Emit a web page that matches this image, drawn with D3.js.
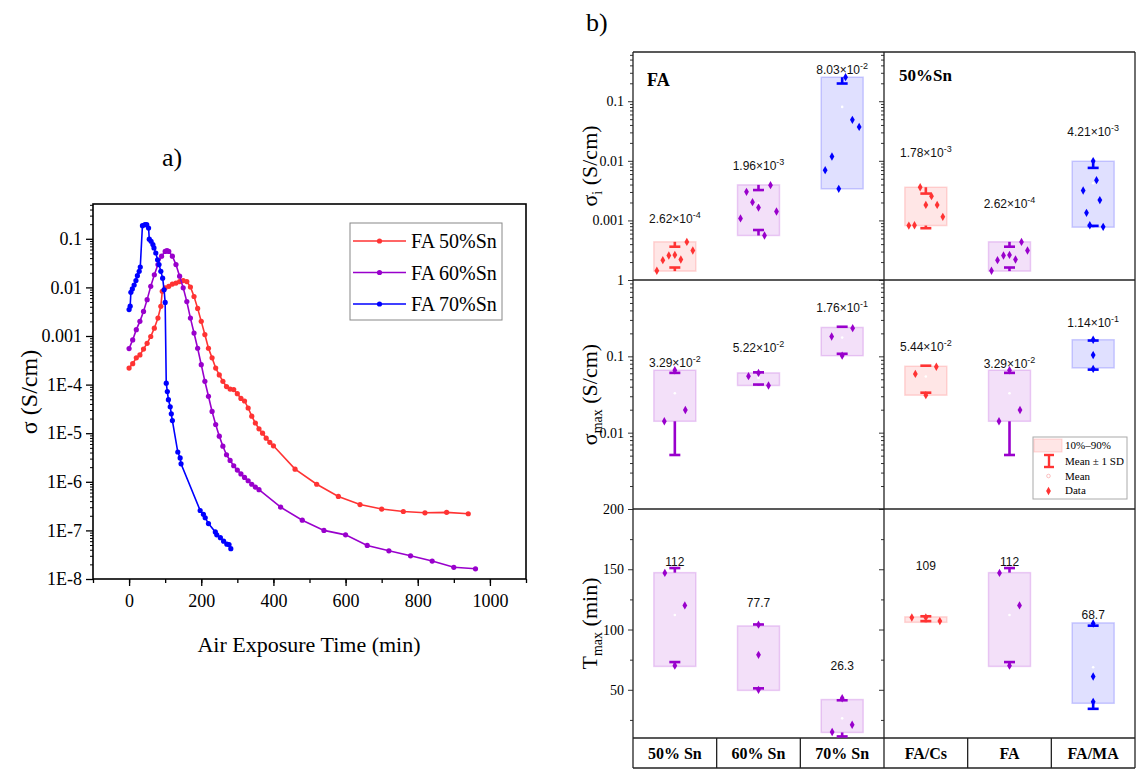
<!DOCTYPE html>
<html>
<head>
<meta charset="utf-8">
<script src="https://cdn.jsdelivr.net/npm/d3@7"></script>
<style>
  body { margin: 0; background: #fff; }
  svg { display: block; }
</style>
</head>
<body>
<svg id="fig" width="1136" height="769"></svg>
<script>
// ---------- panel a data: [air exposure time (min), sigma (S/cm)] ----------
const FA50_SN = [
  [0,2.19e-4],[10,2.69e-4],[20,3.55e-4],[30,4.07e-4],[40,5.37e-4],[50,7.08e-4],[60,9.77e-4],
  [70,1.45e-3],[80,2.34e-3],[88,4.07e-3],[92,8.3e-3],[100,9.8e-3],[110,1.05e-2],[120,1.17e-2],
  [130,1.23e-2],[140,1.32e-2],[150,1.38e-2],[160,1.32e-2],[170,1.02e-2],[180,6.5e-3],[190,3.7e-3],
  [200,2.0e-3],[210,1.07e-3],[220,5.6e-4],[230,3.55e-4],[240,2.19e-4],[250,1.58e-4],[260,1.17e-4],
  [270,9.1e-5],[280,8.1e-5],[290,7.9e-5],[300,6.5e-5],[310,5.2e-5],[320,4.6e-5],[330,3.3e-5],
  [340,2.24e-5],[350,1.62e-5],[360,1.23e-5],[370,1.0e-5],[380,7.9e-6],[390,6.5e-6],[400,5.5e-6],
  [460,1.82e-6],[520,8.9e-7],[580,5.0e-7],[640,3.4e-7],[700,2.75e-7],[760,2.45e-7],[820,2.3e-7],
  [880,2.35e-7],[940,2.2e-7]
];
const FA60_SN = [
  [0,5.5e-4],[10,8.3e-4],[20,1.35e-3],[30,2.0e-3],[40,3.2e-3],[50,5.6e-3],[60,1.05e-2],[70,1.82e-2],
  [80,2.95e-2],[90,4.4e-2],[100,5.5e-2],[105,5.75e-2],[110,5.5e-2],[120,4.4e-2],[130,2.95e-2],
  [140,1.7e-2],[150,9.8e-3],[160,5.1e-3],[170,2.34e-3],[180,1.15e-3],[190,5.6e-4],[200,2.57e-4],
  [210,1.17e-4],[220,5.75e-5],[230,2.8e-5],[240,1.51e-5],[250,8.7e-6],[260,5.4e-6],[270,3.6e-6],
  [280,2.75e-6],[290,2.14e-6],[300,1.74e-6],[310,1.45e-6],[320,1.23e-6],[330,1.05e-6],[340,8.9e-7],
  [350,7.8e-7],[360,6.9e-7],[420,3.0e-7],[480,1.62e-7],[540,1.0e-7],[600,8.1e-8],[660,4.9e-8],
  [720,3.8e-8],[780,3.0e-8],[840,2.34e-8],[900,1.74e-8],[960,1.62e-8]
];
const FA70_SN = [
  [0,3.5e-3],[3,4.1e-3],[5,7.9e-3],[9,9.3e-3],[14,1.12e-2],[19,1.38e-2],[23,1.74e-2],[28,2.14e-2],
  [31,2.63e-2],[37,0.186],[44,0.195],[49,0.195],[54,0.166],[56,9.8e-2],[61,8.9e-2],[66,7.6e-2],
  [69,6.5e-2],[74,5.1e-2],[79,3.7e-2],[83,2.95e-2],[88,2.14e-2],[93,1.55e-2],[97,8.9e-3],[100,4.9e-3],
  [103,1.07e-4],[106,7.2e-5],[109,4.9e-5],[114,3.5e-5],[117,2.5e-5],[120,1.82e-5],[135,4.1e-6],
  [141.5,3.1e-6],[144,2.34e-6],[197,2.57e-7],[206,2.14e-7],[211,1.82e-7],[220,1.38e-7],[239,9.3e-8],
  [243,8.1e-8],[253,7.1e-8],[262,6.0e-8],[271,5.2e-8],[277,5.1e-8],[282,4.2e-8]
];
const SERIES_NAMES = ["FA 50%Sn", "FA 60%Sn", "FA 70%Sn"];
const X_TICKS_A = [0, 200, 400, 600, 800, 1000];

// ---------- panel b data ----------
const GROUP_FA = ["50% Sn", "60% Sn", "70% Sn"];
const GROUP_SN = ["FA/Cs", "FA", "FA/MA"];

// sigma_i (S/cm)
const SIGI_FA_DATA = [
  [1.43e-4, 2.15e-4, 2.58e-4, 2.64e-4, 2.21e-4, 4.36e-4, 3.13e-4],
  [1.08e-3, 3.02e-3, 2.02e-3, 1.64e-3, 5.58e-4, 3.9e-3, 1.41e-3],
  [6.97e-3, 1.18e-2, 3.39e-3, 0.253, 4.87e-2, 3.71e-2]
];
const SIGI_FA_BOX  = [[1.41e-4, 4.37e-4], [5.58e-4, 3.95e-3], [3.39e-3, 0.253]];
const SIGI_FA_MEAN = [2.62e-4, 1.96e-3, 8.03e-2];
const SIGI_FA_SD   = [1.0e-4, 1.27e-3, 0.118];

const SIGI_SN_DATA = [
  [8.2e-4, 8.3e-4, 3.6e-3, 1.82e-3, 2.55e-3, 1.82e-3, 1.15e-3],
  [1.43e-4, 2.15e-4, 2.58e-4, 2.64e-4, 2.21e-4, 4.36e-4, 3.13e-4],
  [3.18e-3, 1.34e-3, 8.3e-4, 9.9e-3, 4.73e-3, 2.19e-3, 7.8e-4]
];
const SIGI_SN_BOX  = [[8.2e-4, 3.6e-3], [1.41e-4, 4.37e-4], [7.7e-4, 9.84e-3]];
const SIGI_SN_MEAN = [1.78e-3, 2.62e-4, 4.21e-3];
const SIGI_SN_SD   = [1.04e-3, 1.0e-4, 3.4e-3];

// sigma_max (S/cm)
const SIGMAX_FA_DATA = [[0.0141, 0.0657, 0.0198], [0.055, 0.0607, 0.0415], [0.182, 0.102, 0.234]];
const SIGMAX_FA_BOX  = [[0.0141, 0.0657], [0.0415, 0.0607], [0.102, 0.239]];
const SIGMAX_FA_MEAN = [3.29e-2, 5.22e-2, 1.76e-1];
const SIGMAX_FA_SD   = [0.0278, 0.0095, 0.068];

const SIGMAX_SN_DATA = [[0.0589, 0.031, 0.073], [0.0141, 0.0657, 0.0198], [0.165, 0.104, 0.0685]];
const SIGMAX_SN_BOX  = [[0.031, 0.0741], [0.0141, 0.0657], [0.0705, 0.165]];
const SIGMAX_SN_MEAN = [5.44e-2, 3.29e-2, 1.14e-1];
const SIGMAX_SN_SD   = [0.021, 0.0278, 0.047];

// T_max (min)
const TMAX_FA_DATA = [[147, 70, 120], [104, 79, 50], [15, 43, 21]];
const TMAX_FA_BOX  = [[69.4, 147.2], [49.5, 103], [14.6, 41.9]];
const TMAX_FA_MEAN = [112, 77.7, 26.3];
const TMAX_FA_SD   = [39, 26.5, 15];

const TMAX_SN_DATA = [[110, 110, 107], [147, 70, 120], [105, 61, 40]];
const TMAX_SN_BOX  = [[106, 110.5], [69.4, 147.2], [38.8, 105.5]];
const TMAX_SN_MEAN = [109, 112, 68.7];
const TMAX_SN_SD   = [2, 39, 34.5];

// ---------- styling ----------
const SERIF = "'Liberation Serif','Times New Roman',serif";
const SANS  = "'Liberation Sans',Arial,sans-serif";
const COL = { red: "#ff3333", purple: "#9900cc", blue: "#0000ff" };
const LINE_COLORS = [COL.red, COL.purple, COL.blue];

const svg = d3.select("#fig").attr("font-family", SERIF);

function noDomain(g) { g.select(".domain").remove(); }
function styleTicks(g, size) {
  g.selectAll("text").attr("font-family", SERIF).attr("font-size", size).attr("fill", "#000");
  g.selectAll("line").attr("stroke", "#000");
}

// =================== panel a ===================
const A = { left: 93, right: 526, top: 204, bottom: 579 };
const xA = d3.scaleLinear().domain([-100, 1100]).range([A.left, A.right]);
const yA = d3.scaleLog().domain([1e-8, 0.52]).range([A.bottom, A.top]);
const gA = svg.append("g");

const decA = d3.range(-8, 0).map(e => 10 ** e);
const minorA = [];
d3.range(-8, 0).forEach(e => d3.range(2, 10).forEach(m => { const v = m * 10 ** e; if (v <= 0.52) minorA.push(v); }));

gA.append("g").attr("transform", `translate(0,${A.bottom})`)
  .call(d3.axisBottom(xA).tickValues(d3.range(-100, 1101, 100)).tickSize(4).tickFormat(""))
  .call(noDomain).call(g => g.selectAll("line").attr("stroke", "#000").attr("stroke-width", 1.3));
gA.append("g").attr("transform", `translate(0,${A.bottom})`)
  .call(d3.axisBottom(xA).tickValues(X_TICKS_A).tickSize(7).tickPadding(8).tickFormat(d3.format("d")))
  .call(noDomain).call(g => styleTicks(g, 18)).call(g => g.selectAll("line").attr("stroke-width", 1.3));

gA.append("g").attr("transform", `translate(${A.left},0)`)
  .call(d3.axisLeft(yA).tickValues(minorA).tickSize(3).tickFormat(""))
  .call(noDomain).call(g => g.selectAll("line").attr("stroke", "#000"));
gA.append("g").attr("transform", `translate(${A.left},0)`)
  .call(d3.axisLeft(yA).tickValues(decA).tickSize(7).tickPadding(4)
    .tickFormat(d => d >= 1e-3 ? String(+d.toPrecision(1)) : "1E" + Math.round(Math.log10(d))))
  .call(noDomain).call(g => styleTicks(g, 18)).call(g => g.selectAll("line").attr("stroke-width", 1.3));

gA.append("rect").attr("x", A.left).attr("y", A.top)
  .attr("width", A.right - A.left).attr("height", A.bottom - A.top)
  .attr("fill", "none").attr("stroke", "#000").attr("stroke-width", 1.6);

const lineA = d3.line().x(d => xA(d[0])).y(d => yA(d[1]));
[FA50_SN, FA60_SN, FA70_SN].forEach((s, i) => {
  gA.append("path").datum(s).attr("fill", "none").attr("stroke", LINE_COLORS[i])
    .attr("stroke-width", 1.6).attr("d", lineA);
  gA.append("g").selectAll("circle").data(s).join("circle")
    .attr("cx", d => xA(d[0])).attr("cy", d => yA(d[1])).attr("r", 2.6)
    .attr("fill", LINE_COLORS[i]);
});

// legend a
const legA = gA.append("g");
legA.append("rect").attr("x", 350).attr("y", 223).attr("width", 152).attr("height", 97)
  .attr("fill", "#fff").attr("stroke", "#888").attr("stroke-width", 1);
SERIES_NAMES.forEach((n, i) => {
  const ly = 241 + i * 31.5;
  legA.append("line").attr("x1", 353).attr("x2", 406).attr("y1", ly).attr("y2", ly)
    .attr("stroke", LINE_COLORS[i]).attr("stroke-width", 1.6);
  legA.append("circle").attr("cx", 379.5).attr("cy", ly).attr("r", 2.6).attr("fill", LINE_COLORS[i]);
  legA.append("text").attr("x", 411).attr("y", ly + 7).attr("font-size", 20).text(n);
});

gA.append("text").attr("x", 309).attr("y", 652).attr("text-anchor", "middle")
  .attr("font-size", 22).text("Air Exposure Time (min)");
gA.append("text").attr("transform", "translate(37,392) rotate(-90)").attr("text-anchor", "middle")
  .attr("font-size", 24).text("σ (S/cm)");
svg.append("text").attr("x", 162).attr("y", 166).attr("font-size", 26).text("a)");
svg.append("text").attr("x", 586).attr("y", 31).attr("font-size", 26).text("b)");

// =================== panel b ===================
const B = { left: 633, mid: 884, right: 1135, top: 52, r1: 280, r2: 509, r3: 738, bottom: 768 };
const xFA = d3.scaleBand().domain(GROUP_FA).range([B.left, B.mid]);
const xSN = d3.scaleBand().domain(GROUP_SN).range([B.mid, B.right]);
const ySigI   = d3.scaleLog().domain([1e-4, 0.67]).range([B.r1, B.top]);
const ySigMax = d3.scaleLog().domain([1e-3, 1]).range([B.r2, B.r1]);
const yTmax   = d3.scaleLinear().domain([10, 200]).range([B.r3, B.r2]);

const gB = svg.append("g");

function logMinor(lo, hi) {
  const out = [];
  for (let e = Math.floor(Math.log10(lo)); e < Math.ceil(Math.log10(hi)); e++)
    for (let m = 2; m < 10; m++) { const v = m * 10 ** e; if (v > lo && v < hi) out.push(v); }
  return out;
}
const ROW_AXES = [
  { y: ySigI,   major: [0.1, 0.01, 0.001],   minor: logMinor(1e-4, 0.67), all: [1e-3, 1e-2, 1e-1] },
  { y: ySigMax, major: [1, 0.1, 0.01],       minor: logMinor(1e-3, 1),    all: [1e-2, 1e-1, 1] },
  { y: yTmax,   major: [200, 150, 100, 50],  minor: [25, 75, 125, 175],   all: [50, 100, 150, 200] }
];
ROW_AXES.forEach(r => {
  [B.left, B.mid].forEach((xp, k) => {
    gB.append("g").attr("transform", `translate(${xp},0)`)
      .call(d3.axisLeft(r.y).tickValues(r.minor).tickSize(3).tickFormat(""))
      .call(noDomain).call(g => g.selectAll("line").attr("stroke", "#333"));
    gB.append("g").attr("transform", `translate(${xp},0)`)
      .call(d3.axisLeft(r.y).tickValues(k === 0 ? r.major : r.all).tickSize(5).tickPadding(4)
        .tickFormat(k === 0 ? (d => String(d)) : ""))
      .call(noDomain).call(g => styleTicks(g, 14)).call(g => g.selectAll("line").attr("stroke", "#333"));
  });
});

// frame lines
const frame = gB.append("g").attr("stroke", "#222").attr("stroke-width", 1.3);
[B.left, B.mid, B.right].forEach(x => frame.append("line").attr("x1", x).attr("x2", x).attr("y1", B.top).attr("y2", B.bottom));
[B.top, B.r1, B.r2, B.r3, B.bottom].forEach(y => frame.append("line").attr("x1", B.left).attr("x2", B.right).attr("y1", y).attr("y2", y));
[xFA, xSN].forEach(sc => sc.domain().slice(1).forEach(c =>
  frame.append("line").attr("x1", sc(c)).attr("x2", sc(c)).attr("y1", B.r3).attr("y2", B.bottom)));

// category labels
[xFA, xSN].forEach(sc => sc.domain().forEach(c =>
  gB.append("text").attr("x", sc(c) + sc.bandwidth() / 2).attr("y", 759)
    .attr("text-anchor", "middle").attr("font-size", 16).attr("font-weight", "bold").text(c)));

gB.append("text").attr("x", 647).attr("y", 86).attr("font-size", 18).attr("font-weight", "bold").text("FA");
gB.append("text").attr("x", 899).attr("y", 81).attr("font-size", 17).attr("font-weight", "bold").text("50%Sn");

// row titles
function rowTitle(cy, main, sub, rest) {
  const t = gB.append("text").attr("transform", `translate(597,${cy}) rotate(-90)`)
    .attr("text-anchor", "middle").attr("font-size", 22);
  t.append("tspan").text(main);
  t.append("tspan").attr("font-size", 14).attr("dy", 5).text(sub);
  t.append("tspan").attr("dy", -5).text(rest);
}
rowTitle((B.top + B.r1) / 2, "σ", "i", " (S/cm)");
rowTitle((B.r1 + B.r2) / 2, "σ", "max", " (S/cm)");
rowTitle((B.r2 + B.r3) / 2, "T", "max", " (min)");

// cells
const CELLS = [
  { x: xFA, y: ySigI, log: true, data: SIGI_FA_DATA, box: SIGI_FA_BOX, mean: SIGI_FA_MEAN, sd: SIGI_FA_SD,
    col: ["red", "purple", "blue"], gap: [19, 15, 3], jit: [18, 18, 17] },
  { x: xSN, y: ySigI, log: true, data: SIGI_SN_DATA, box: SIGI_SN_BOX, mean: SIGI_SN_MEAN, sd: SIGI_SN_SD,
    col: ["red", "purple", "blue"], gap: [30, 34, 25], jit: [17, 18, 10] },
  { x: xFA, y: ySigMax, log: true, data: SIGMAX_FA_DATA, box: SIGMAX_FA_BOX, mean: SIGMAX_FA_MEAN, sd: SIGMAX_FA_SD,
    col: ["purple", "purple", "purple"], gap: [3, 21, 15], jit: [10.5, 10, 10.5] },
  { x: xSN, y: ySigMax, log: true, data: SIGMAX_SN_DATA, box: SIGMAX_SN_BOX, mean: SIGMAX_SN_MEAN, sd: SIGMAX_SN_SD,
    col: ["red", "purple", "blue"], gap: [15, 2, 13], jit: [10.5, 10.5, 0] },
  { x: xFA, y: yTmax, log: false, data: TMAX_FA_DATA, box: TMAX_FA_BOX, mean: TMAX_FA_MEAN, sd: TMAX_FA_SD,
    col: ["purple", "purple", "purple"], gap: [7, 19, 30], jit: [10, 0, 10] },
  { x: xSN, y: yTmax, log: false, data: TMAX_SN_DATA, box: TMAX_SN_BOX, mean: TMAX_SN_MEAN, sd: TMAX_SN_SD,
    col: ["red", "purple", "blue"], gap: [47, 7, 4], jit: [14, 10, 0] }
];
const BOX_W = 42, CAP_W = 11;
const diamond = d3.symbol().type(d3.symbolDiamond).size(20);

CELLS.forEach(cell => {
  const lo = cell.y.domain()[0];
  cell.x.domain().forEach((cat, i) => {
    const c = COL[cell.col[i]];
    const cx = cell.x(cat) + cell.x.bandwidth() / 2;
    const [bLo, bHi] = cell.box[i];
    const g = gB.append("g");
    g.append("rect").attr("x", cx - BOX_W / 2).attr("width", BOX_W)
      .attr("y", cell.y(bHi)).attr("height", cell.y(bLo) - cell.y(bHi))
      .attr("fill", c).attr("fill-opacity", 0.12)
      .attr("stroke", c).attr("stroke-opacity", 0.18).attr("stroke-width", 1.5);

    const m = cell.mean[i], s = cell.sd[i];
    const up = m + s, dn = m - s;
    const whisk = (from, to) => {
      g.append("line").attr("x1", cx).attr("x2", cx).attr("y1", cell.y(from)).attr("y2", cell.y(to))
        .attr("stroke", c).attr("stroke-width", 2.6);
      g.append("line").attr("x1", cx - CAP_W / 2).attr("x2", cx + CAP_W / 2)
        .attr("y1", cell.y(to)).attr("y2", cell.y(to)).attr("stroke", c).attr("stroke-width", 2.6);
    };
    whisk(bHi, up);
    if (dn > lo) whisk(bLo, dn);

    g.append("circle").attr("cx", cx).attr("cy", cell.y(m)).attr("r", 1.3).attr("fill", "#fff");

    const pts = cell.data[i], n = pts.length;
    g.selectAll("path.pt").data(pts).join("path").attr("class", "pt")
      .attr("transform", (d, k) => {
        const off = n > 1 ? (-1 + 2 * k / (n - 1)) * cell.jit[i] : 0;
        return `translate(${cx + off},${cell.y(d)})`;
      })
      .attr("d", diamond).attr("fill", c);

    const t = g.append("text").attr("x", cx).attr("y", cell.y(bHi) - cell.gap[i])
      .attr("text-anchor", "middle").attr("font-family", SANS).attr("font-size", 12).attr("fill", "#111");
    if (cell.log) {
      const e = Math.floor(Math.log10(m) + 1e-9);
      t.append("tspan").text((m / 10 ** e).toFixed(2) + "×10");
      t.append("tspan").attr("dy", -5).attr("font-size", 9).text(String(e));
    } else {
      t.text(d3.format(".3r")(m));
    }
  });
});

// legend b
const legB = gB.append("g");
legB.append("rect").attr("x", 1033).attr("y", 437).attr("width", 94).attr("height", 62)
  .attr("fill", "#fff").attr("stroke", "#aaa").attr("stroke-width", 1);
legB.append("rect").attr("x", 1034).attr("y", 439).attr("width", 28).attr("height", 13)
  .attr("fill", COL.red).attr("fill-opacity", 0.12).attr("stroke", COL.red).attr("stroke-opacity", 0.18);
legB.append("line").attr("x1", 1049).attr("x2", 1049).attr("y1", 455).attr("y2", 467).attr("stroke", COL.red).attr("stroke-width", 2.4);
[455, 467].forEach(y => legB.append("line").attr("x1", 1044).attr("x2", 1054).attr("y1", y).attr("y2", y)
  .attr("stroke", COL.red).attr("stroke-width", 2.4));
legB.append("circle").attr("cx", 1048.5).attr("cy", 476).attr("r", 1.8).attr("fill", "#fff").attr("stroke", "#f9b0b0").attr("stroke-width", 0.8);
legB.append("path").attr("transform", "translate(1048.5,491)").attr("d", diamond).attr("fill", COL.red);
[["10%–90%", 449], ["Mean ± 1 SD", 465], ["Mean", 480], ["Data", 494]].forEach(([s, y]) =>
  legB.append("text").attr("x", 1065).attr("y", y).attr("font-size", 11).text(s));
</script>
</body>
</html>
